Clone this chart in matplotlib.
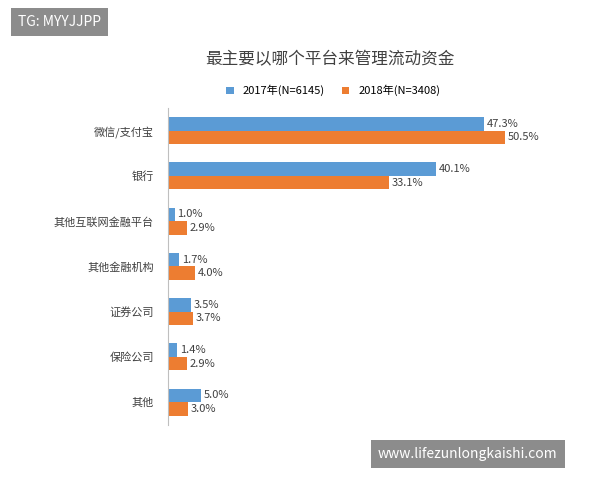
import matplotlib.pyplot as plt
import numpy as np

plt.rcParams['font.family'] = ['Noto Sans CJK SC', 'DejaVu Sans']

categories = ['微信/支付宝', '银行', '其他互联网金融平台', '其他金融机构', '证券公司', '保险公司', '其他']
v2017 = [47.3, 40.1, 1.0, 1.7, 3.5, 1.4, 5.0]
v2018 = [50.5, 33.1, 2.9, 4.0, 3.7, 2.9, 3.0]

fig = plt.figure(figsize=(6, 4.8), dpi=100)
ax = fig.add_axes([0.28, 0.115, 0.612, 0.66])
y = np.arange(len(categories))
h = 0.3
ax.barh(y - h / 2, v2017, h, color='#5B9BD5', label='2017年(N=6145)')
ax.barh(y + h / 2, v2018, h, color='#ED7D31', label='2018年(N=3408)')
for i in range(len(categories)):
    ax.text(v2017[i] + 0.4, y[i] - h / 2, f'{v2017[i]:.1f}%', va='center', fontsize=8, color='#404040')
    ax.text(v2018[i] + 0.4, y[i] + h / 2, f'{v2018[i]:.1f}%', va='center', fontsize=8, color='#404040')
ax.set_yticks(y)
ax.set_yticklabels(categories, fontsize=8, color='#404040')
ax.set_ylim(len(categories) - 0.5, -0.5)
ax.set_xlim(0, 55)
ax.set_xticks([])
for s in ['top', 'right', 'bottom']:
    ax.spines[s].set_visible(False)
ax.spines['left'].set_color('#bfbfbf')
ax.tick_params(axis='y', length=0, pad=10)

fig.text(0.55, 0.875, '最主要以哪个平台来管理流动资金', ha='center', va='center', fontsize=12, color='#404040')
ax.legend(loc='lower center', bbox_to_anchor=(0.45, 1.005), ncol=2, frameon=False, fontsize=8,
          handlelength=0.7, handleheight=0.7, columnspacing=1.5)

fig.text(0.03, 0.955, 'TG: MYYJJPP', fontsize=10, color='white', va='center',
         bbox=dict(boxstyle='square,pad=0.5', fc='#8c8c8c', ec='none'))
fig.text(0.63, 0.055, 'www.lifezunlongkaishi.com', fontsize=10, color='white', va='center',
         bbox=dict(boxstyle='square,pad=0.5', fc='#8c8c8c', ec='none'))

fig.savefig('out.png', dpi=100)
